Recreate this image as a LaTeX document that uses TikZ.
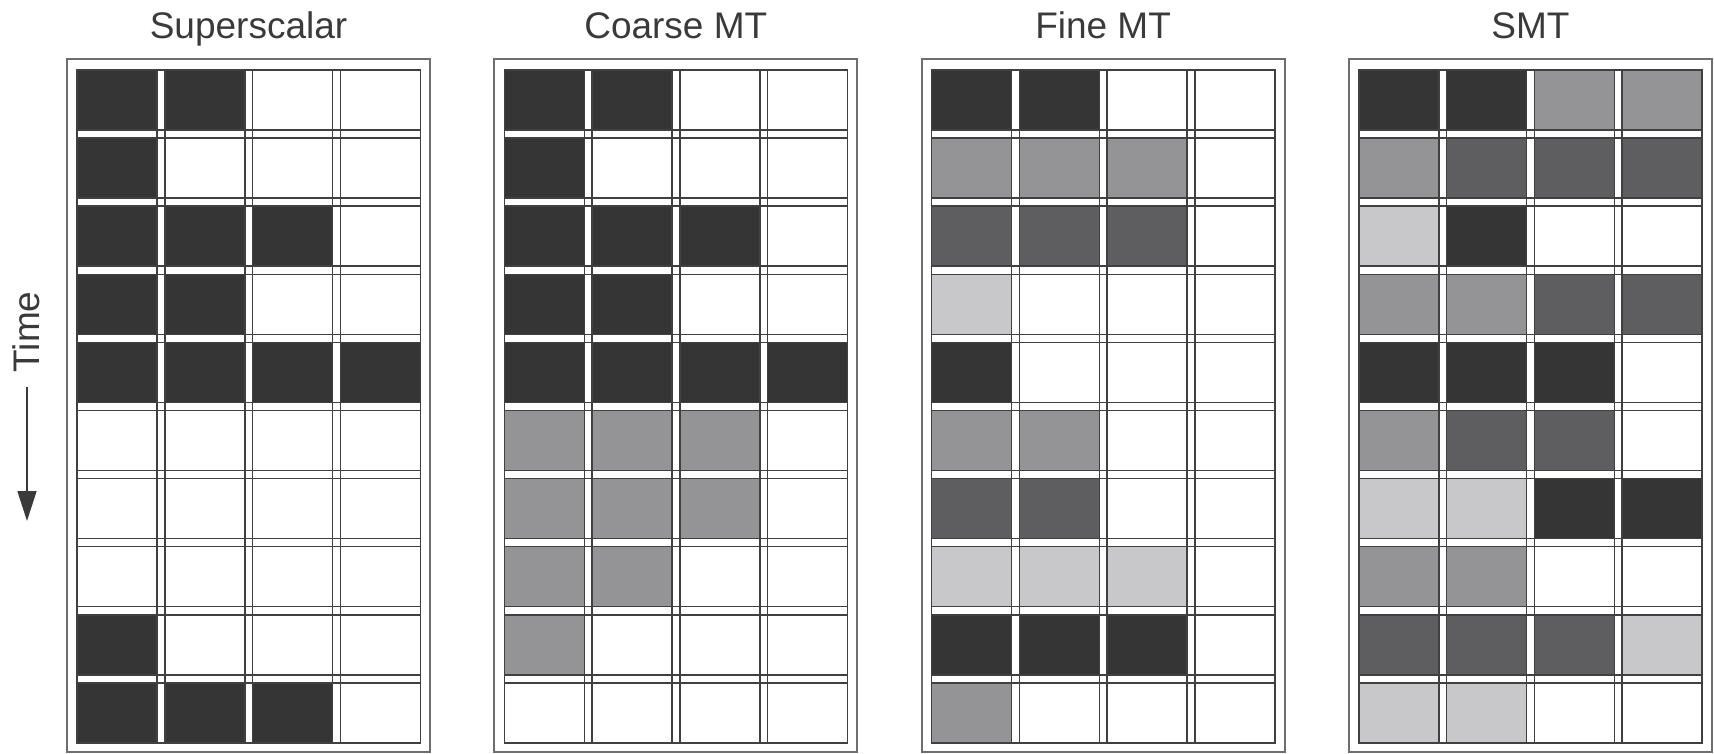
\documentclass[tikz,border=0pt]{standalone}
\usepackage{fontspec}
\setmainfont{Liberation Sans}
\usetikzlibrary{arrows.meta}
\definecolor{cB}{HTML}{353535}
\definecolor{cD}{HTML}{5E5E60}
\definecolor{cM}{HTML}{949497}
\definecolor{cL}{HTML}{C8C8CA}
\definecolor{cW}{HTML}{FFFFFF}
\definecolor{txt}{HTML}{3A3A3A}
\definecolor{framec}{HTML}{6E6E6E}
\definecolor{linec}{HTML}{404040}
\tikzset{
  title/.style={font=\fontsize{37}{40}\selectfont, text=txt, anchor=base, inner sep=0pt},
  frameline/.style={draw=framec, line width=2pt},
  cellbox/.style={draw=linec, line width=1.5pt},
  gridline/.style={draw=linec, line width=1.5pt},
}
\newcommand{\panel}[3]{%
  % #1 = x offset, #2 = title, #3 = rows
  \begin{scope}[xshift=#1]
    \node[title] (t#1) at (248.5,38) {#2};
    \draw[frameline] (67,59) rectangle (430,752);
    \foreach \r in {1,...,10}{
      \pgfmathsetmacro{\ty}{70+(\r-1)*68.1}
      \pgfmathsetmacro{\by}{\ty+60}
      \draw[gridline] (77,\ty) -- (420.25,\ty);
      \draw[gridline] (77,\by) -- (420.25,\by);
    }
    \foreach \k in {1,...,4}{
      \pgfmathsetmacro{\lx}{77+(\k-1)*87.75}
      \pgfmathsetmacro{\rx}{\lx+80}
      \draw[gridline] (\lx,70) -- (\lx,743);
      \draw[gridline] (\rx,70) -- (\rx,743);
    }
    \foreach \row [count=\r] in {#3}{
      \foreach \c [count=\k] in \row {
        \pgfmathsetmacro{\lx}{77+(\k-1)*87.75}
        \pgfmathsetmacro{\ty}{70+(\r-1)*68.1}
        \path[cellbox, fill=c\c] (\lx,\ty) rectangle ++(80,60);
      }
    }
  \end{scope}
}
\begin{document}
\begin{tikzpicture}[x=1pt,y=-1pt]
\useasboundingbox (0,0) rectangle (1714,753);
\panel{0}{Superscalar}{{B,B,W,W},{B,W,W,W},{B,B,B,W},{B,B,W,W},{B,B,B,B},{W,W,W,W},{W,W,W,W},{W,W,W,W},{B,W,W,W},{B,B,B,W}}
\panel{427.3}{Coarse MT}{{B,B,W,W},{B,W,W,W},{B,B,B,W},{B,B,W,W},{B,B,B,B},{M,M,M,W},{M,M,M,W},{M,M,W,W},{M,W,W,W},{W,W,W,W}}
\panel{854.6}{Fine MT}{{B,B,W,W},{M,M,M,W},{D,D,D,W},{L,W,W,W},{B,W,W,W},{M,M,W,W},{D,D,W,W},{L,L,L,W},{B,B,B,W},{M,W,W,W}}
\panel{1281.9}{SMT}{{B,B,M,M},{M,D,D,D},{L,B,W,W},{M,M,D,D},{B,B,B,W},{M,D,D,W},{L,L,B,B},{M,M,W,W},{D,D,D,L},{L,L,W,W}}
\node[font=\fontsize{37}{40}\selectfont, text=txt, rotate=90, inner sep=0pt] (time) at (26,332) {Time};
\coordinate (ta) at (27,387);
\coordinate (tb) at (27,521);
\draw[txt, line width=1.6pt, -{Triangle[width=19pt,length=30pt]}] (ta) -- (tb);
\end{tikzpicture}
\end{document}
